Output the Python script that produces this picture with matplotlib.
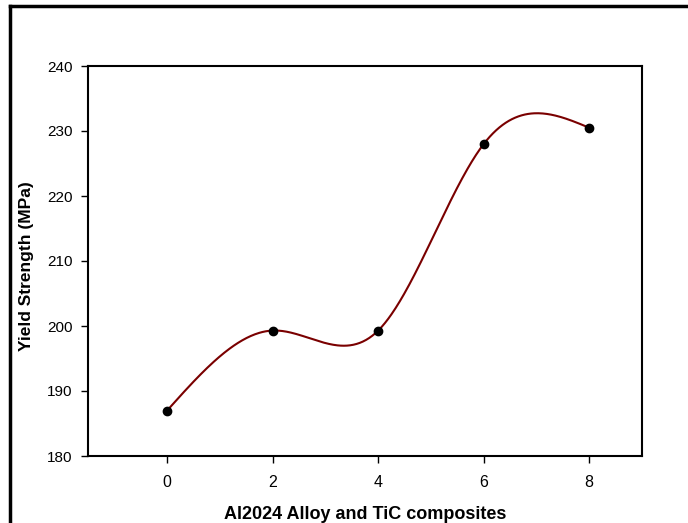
import numpy as np
import matplotlib
matplotlib.use("Agg")
import matplotlib.pyplot as plt

x_vals = [0, 2, 4, 6, 8]
y_vals = [187.0, 199.3, 199.3, 228.0, 230.5]
x_ticks = [0, 2, 4, 6, 8]
y_ticks = [180, 190, 200, 210, 220, 230, 240]


def natural_spline(x, y, xs):
    x = np.asarray(x, float); y = np.asarray(y, float)
    n = len(x)
    h = np.diff(x)
    A = np.zeros((n, n)); b = np.zeros(n)
    A[0, 0] = 1; A[-1, -1] = 1
    for i in range(1, n - 1):
        A[i, i - 1] = h[i - 1]
        A[i, i] = 2 * (h[i - 1] + h[i])
        A[i, i + 1] = h[i]
        b[i] = 3 * ((y[i + 1] - y[i]) / h[i] - (y[i] - y[i - 1]) / h[i - 1])
    c = np.linalg.solve(A, b)
    out = np.empty_like(xs)
    for k, xv in enumerate(xs):
        i = min(max(np.searchsorted(x, xv) - 1, 0), n - 2)
        d = (c[i + 1] - c[i]) / (3 * h[i])
        bb = (y[i + 1] - y[i]) / h[i] - h[i] * (2 * c[i] + c[i + 1]) / 3
        t = xv - x[i]
        out[k] = y[i] + bb * t + c[i] * t ** 2 + d * t ** 3
    return out


plt.rcParams['font.family'] = ['Liberation Sans', 'DejaVu Sans']
fig = plt.figure(figsize=(6.88, 5.23), dpi=100)
ax = fig.add_axes([88 / 688, 1 - 456 / 523, (642 - 88) / 688, (456 - 66) / 523])

xs = np.linspace(x_vals[0], x_vals[-1], 400)
ax.plot(xs, natural_spline(x_vals, y_vals, xs), color='#7a0000', lw=1.5, zorder=2)
ax.plot(x_vals, y_vals, 'o', color='black', ms=6, zorder=3)

ax.set_xlim(-1.5, 9)
ax.set_ylim(180, 240)
ax.set_xticks(x_ticks)
ax.set_yticks(y_ticks)
ax.tick_params(direction='out', length=5, width=1, labelsize=11)
ax.tick_params(axis='x', pad=9, labelsize=11.5)
ax.tick_params(axis='y', pad=6)
for s in ax.spines.values():
    s.set_linewidth(1.5)
ax.set_xlabel('Al2024 Alloy and TiC composites', fontsize=13, fontweight='bold', labelpad=11)
ax.set_ylabel('Yield Strength (MPa)', fontsize=12.5, fontweight='bold')
ax.yaxis.set_label_coords(-0.098, 0.487)

# outer frame (top and left edges visible)
fig.add_artist(plt.Line2D([9.5 / 688, 1], [1 - 6 / 523, 1 - 6 / 523], color='black', lw=2.5, transform=fig.transFigure))
fig.add_artist(plt.Line2D([9.5 / 688, 9.5 / 688], [0, 1 - 6 / 523], color='black', lw=2.5, transform=fig.transFigure))

fig.savefig('out.png', dpi=100)
